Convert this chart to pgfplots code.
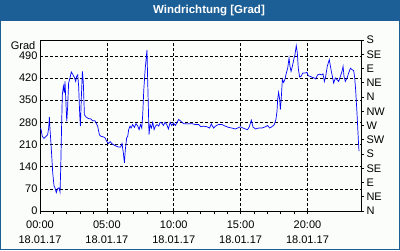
\documentclass[border=0pt]{standalone}
\usepackage{pgfplots}
\pgfplotsset{compat=1.18}
\usepackage{fontspec}
\setmainfont{Liberation Sans}
\definecolor{barblue}{RGB}{28,95,150}
\definecolor{bgwhite}{RGB}{250,253,250}
\begin{document}
\begin{tikzpicture}[x=1pt,y=1pt]
\fill[barblue] (0,0) rectangle (400,250);
\fill[bgwhite] (1.2,1.2) rectangle (398.8,229);
\node[text=white,font=\fontsize{11.5}{13}\selectfont\bfseries] at (209,239.5) {Windrichtung [Grad]};
\node[anchor=east,font=\fontsize{11}{13}\selectfont,inner sep=0pt] at (35.5,204) {Grad};
\begin{axis}[
  at={(40pt,39pt)}, anchor=south west,
  scale only axis, width=321pt, height=171pt,
  xmin=0, xmax=24, ymin=0, ymax=540,
  axis line style={black, line width=0.8pt},
  xtick={0,5,10,15,20},
  xticklabels={{00:00\\18.01.17},{05:00\\18.01.17},{10:00\\18.01.17},{15:00\\18.01.17},{20:00\\18.01.17}},
  xticklabel style={align=center, font=\fontsize{11}{15}\selectfont, yshift=-3pt},
  minor x tick num=4,
  xtick pos=bottom, xtick align=outside,
  major tick length=3pt, minor tick length=3pt,
  ytick={0,70,...,490},
  ytick pos=left,
  ytick style={draw=none},
  yticklabel style={font=\fontsize{11}{13}\selectfont, xshift=1pt},
  /pgf/number format/assume math mode=true,
  tick style={black, line width=0.6pt},
  xmajorgrids, ymajorgrids,
  major grid style={black, dash pattern=on 3pt off 2pt, line width=0.6pt},
]
\addplot[blue, line width=0.7pt, mark=none] coordinates {
(0.00,262)(0.07,259)(0.17,236)(0.30,229)(0.45,236)(0.57,241)(0.65,262)(0.70,297)(0.75,257)(0.80,226)(0.87,179)(0.95,121)(1.05,79)(1.12,73)(1.22,58)(1.32,71)(1.42,73)(1.50,60)(1.55,136)(1.62,278)(1.67,367)(1.75,394)(1.82,373)(1.87,409)(1.95,331)(2.00,283)(2.07,331)(2.14,404)(2.24,420)(2.34,439)(2.44,432)(2.57,422)(2.67,409)(2.74,425)(2.82,430)(2.89,394)(2.97,304)(3.02,268)(3.09,357)(3.17,441)(3.24,404)(3.32,304)(3.44,297)(3.62,292)(3.79,291)(3.94,285)(4.11,285)(4.19,278)(4.31,268)(4.44,241)(4.56,236)(4.74,234)(4.86,231)(4.99,220)(5.11,213)(5.26,219)(5.36,213)(5.51,209)(5.69,205)(5.86,202)(6.03,202)(6.13,213)(6.23,184)(6.31,152)(6.38,194)(6.48,231)(6.56,236)(6.63,257)(6.73,268)(6.81,262)(6.93,273)(7.06,264)(7.18,276)(7.31,268)(7.41,257)(7.51,273)(7.61,262)(7.68,304)(7.76,383)(7.86,446)(7.93,478)(8.00,509)(8.05,415)(8.10,331)(8.15,241)(8.23,273)(8.33,262)(8.43,280)(8.53,257)(8.63,268)(8.75,273)(8.88,268)(8.98,280)(9.10,278)(9.23,270)(9.35,280)(9.48,273)(9.60,259)(9.73,280)(9.85,270)(9.98,278)(10.12,270)(10.22,278)(10.37,289)
(10.49,285)(10.74,276)(10.99,275)(11.36,276)(11.61,273)(11.86,273)(12.03,266)(12.23,268)(12.48,266)(12.68,262)(12.81,275)(12.98,262)(13.18,270)(13.35,273)(13.60,273)(13.85,268)(14.10,264)(14.35,262)(14.60,259)(14.78,262)(14.98,266)(15.17,262)(15.35,259)(15.52,257)(15.65,266)(15.80,287)(15.92,266)(16.10,259)(16.35,262)(16.60,262)(16.85,266)(17.02,270)(17.17,262)(17.34,266)(17.52,273)(17.64,289)(17.72,315)(17.77,352)(17.84,375)(17.92,352)(17.97,320)(18.04,357)(18.12,415)(18.22,406)(18.32,417)(18.42,436)(18.52,451)(18.62,483)(18.69,457)(18.77,441)(18.87,457)(18.97,478)(19.06,493)(19.16,522)(19.24,499)(19.31,451)(19.41,423)(19.51,425)(19.66,436)(19.84,436)(19.96,438)(20.06,427)(20.21,425)(20.36,422)(20.51,420)(20.61,417)(20.76,430)(20.91,432)(21.06,430)(21.16,433)(21.26,409)(21.36,425)(21.48,457)(21.63,478)(21.76,446)(21.86,425)(21.96,404)(22.08,420)(22.21,415)(22.33,409)(22.46,425)(22.58,441)(22.66,457)(22.73,425)(22.83,409)(22.96,420)(23.08,436)(23.21,451)(23.33,446)(23.45,444)(23.53,420)(23.60,383)(23.65,346)(23.70,310)(23.75,268)(23.80,226)(23.85,189)
};
\end{axis}
\begin{axis}[
  at={(40pt,39pt)}, anchor=south west,
  scale only axis, width=321pt, height=171pt,
  xmin=0, xmax=24, ymin=0, ymax=540,
  axis x line=none,
  axis y line*=right,
  axis line style={black, line width=0.8pt, -},
  ytick={0,45,...,540},
  yticklabels={N,NE,E,SE,S,SW,W,NW,N,NE,E,SE,S},
  yticklabel style={font=\fontsize{11}{13}\selectfont, xshift=-1pt},
  ytick align=outside, major tick length=3pt,
  tick style={black, line width=0.6pt},
]
\end{axis}
\end{tikzpicture}
\end{document}
